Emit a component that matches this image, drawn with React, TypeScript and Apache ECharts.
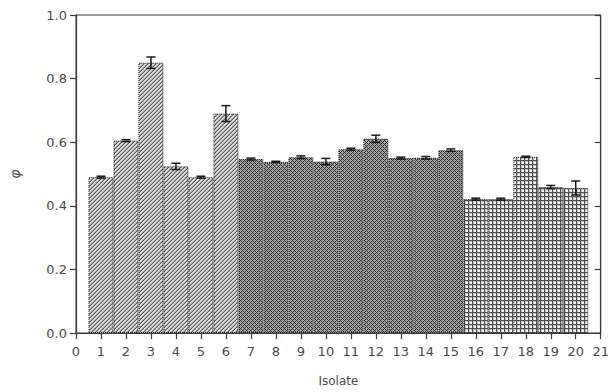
import React, { useEffect, useRef } from "react";
import * as echarts from "echarts";

const isolates = [1, 2, 3, 4, 5, 6, 7, 8, 9, 10, 11, 12, 13, 14, 15, 16, 17, 18, 19, 20];
const phiValues = [0.49, 0.605, 0.85, 0.524, 0.49, 0.69, 0.547, 0.538, 0.553, 0.539, 0.578, 0.611, 0.55, 0.551, 0.575, 0.421, 0.421, 0.554, 0.459, 0.456];
const phiErrors = [0.003, 0.003, 0.018, 0.01, 0.003, 0.025, 0.003, 0.002, 0.004, 0.01, 0.003, 0.011, 0.003, 0.004, 0.004, 0.003, 0.003, 0.002, 0.005, 0.022];
const patternGroup = [0, 0, 0, 0, 0, 0, 1, 1, 1, 1, 1, 1, 1, 1, 1, 2, 2, 2, 2, 2];
const xMin = 0;
const xMax = 21;
const yMin = 0;
const yMax = 1.0;
const yStep = 0.2;

function makePattern(kind: number): HTMLCanvasElement {
  const s = 4;
  const c = document.createElement("canvas");
  c.width = s;
  c.height = s;
  const ctx = c.getContext("2d")!;
  for (let y = 0; y < s; y++) {
    for (let x = 0; x < s; x++) {
      let col = "#fff";
      if (kind === 0) {
        const d = (x + y) % 4;
        col = d === 3 ? "#555" : d === 2 ? "#9c9c9c" : "#dedede";
      } else if (kind === 1) {
        const a = (x + y) % 4 === 0;
        const b = (x - y + 8) % 4 === 0;
        col = a || b ? "#2a2a2a" : "#a6a6a6";
      } else {
        if (x === 0 || y === 0) col = "#505050";
        else if (x === 1 || y === 1) col = "#c4c4c4";
        else col = "#f4f4f4";
      }
      ctx.fillStyle = col;
      ctx.fillRect(x, y, 1, 1);
    }
  }
  return c;
}

export default function App() {
  const ref = useRef<HTMLDivElement>(null);
  useEffect(() => {
    document.body.style.margin = "0";
    const chart = echarts.init(ref.current!, undefined, { renderer: "svg" });
    const patterns = [0, 1, 2].map((k) => ({ image: makePattern(k), repeat: "repeat" }));
    const font = "DejaVu Sans";
    const axisColor = "#3a3a3a";
    const labelColor = "#4a4a4a";
    chart.setOption({
      animation: false,
      backgroundColor: "#fff",
      grid: { left: 72, right: 7, top: 15, bottom: 55, show: true, borderColor: axisColor, borderWidth: 1 },
      xAxis: {
        type: "value",
        min: xMin,
        max: xMax,
        interval: 1,
        name: "Isolate",
        nameLocation: "middle",
        nameGap: 42,
        nameTextStyle: { fontFamily: font, fontSize: 12, color: labelColor },
        axisLine: { show: true, lineStyle: { color: axisColor, width: 1.2 } },
        axisTick: { show: true, inside: false, length: 6, lineStyle: { color: axisColor, width: 1.2 } },
        axisLabel: { show: true, margin: 12, fontFamily: font, fontSize: 13, color: labelColor },
        splitLine: { show: false },
      },
      yAxis: [
        {
          type: "value",
          min: yMin,
          max: yMax,
          interval: yStep,
          name: "φ",
          nameLocation: "middle",
          nameGap: 54,
          nameTextStyle: { fontFamily: font, fontSize: 14, fontStyle: "italic", color: labelColor },
          axisLine: { show: true, lineStyle: { color: axisColor, width: 1.2 } },
          axisTick: { show: true, inside: false, length: 6, lineStyle: { color: axisColor, width: 1.2 } },
          axisLabel: { margin: 9, fontFamily: font, fontSize: 13, color: labelColor, formatter: (v: number) => v.toFixed(1) },
          splitLine: { show: false },
        },
        {
          type: "value",
          position: "right",
          min: yMin,
          max: yMax,
          interval: yStep,
          axisLine: { show: true, lineStyle: { color: axisColor, width: 1.2 } },
          axisTick: { show: true, inside: true, length: 6, lineStyle: { color: axisColor, width: 1.2 } },
          axisLabel: { show: false },
          splitLine: { show: false },
        },
      ],
      series: [
        {
          type: "bar",
          barWidth: "100%",
          data: isolates.map((x, i) => ({
            value: [x, phiValues[i]],
            itemStyle: { color: patterns[patternGroup[i]] },
          })),
          itemStyle: { borderColor: "#1a1a1a", borderWidth: 1, borderType: "dotted" },
        },
        {
          type: "custom",
          z: 10,
          data: isolates.map((x, i) => [x, phiValues[i], phiErrors[i]]),
          renderItem: (_params: any, api: any) => {
            const x = api.value(0);
            const v = api.value(1);
            const e = api.value(2);
            const top = api.coord([x, v + e]);
            const bot = api.coord([x, v - e]);
            const hw = 4.5;
            const style = { stroke: "#1a1a1a", lineWidth: 1.5 };
            return {
              type: "group",
              children: [
                { type: "line", shape: { x1: top[0], y1: top[1], x2: bot[0], y2: bot[1] }, style },
                { type: "line", shape: { x1: top[0] - hw, y1: top[1], x2: top[0] + hw, y2: top[1] }, style },
                { type: "line", shape: { x1: bot[0] - hw, y1: bot[1], x2: bot[0] + hw, y2: bot[1] }, style },
              ],
            };
          },
        },
      ],
    });
    return () => chart.dispose();
  }, []);
  return <div ref={ref} style={{ width: 612, height: 392 }} />;
}
